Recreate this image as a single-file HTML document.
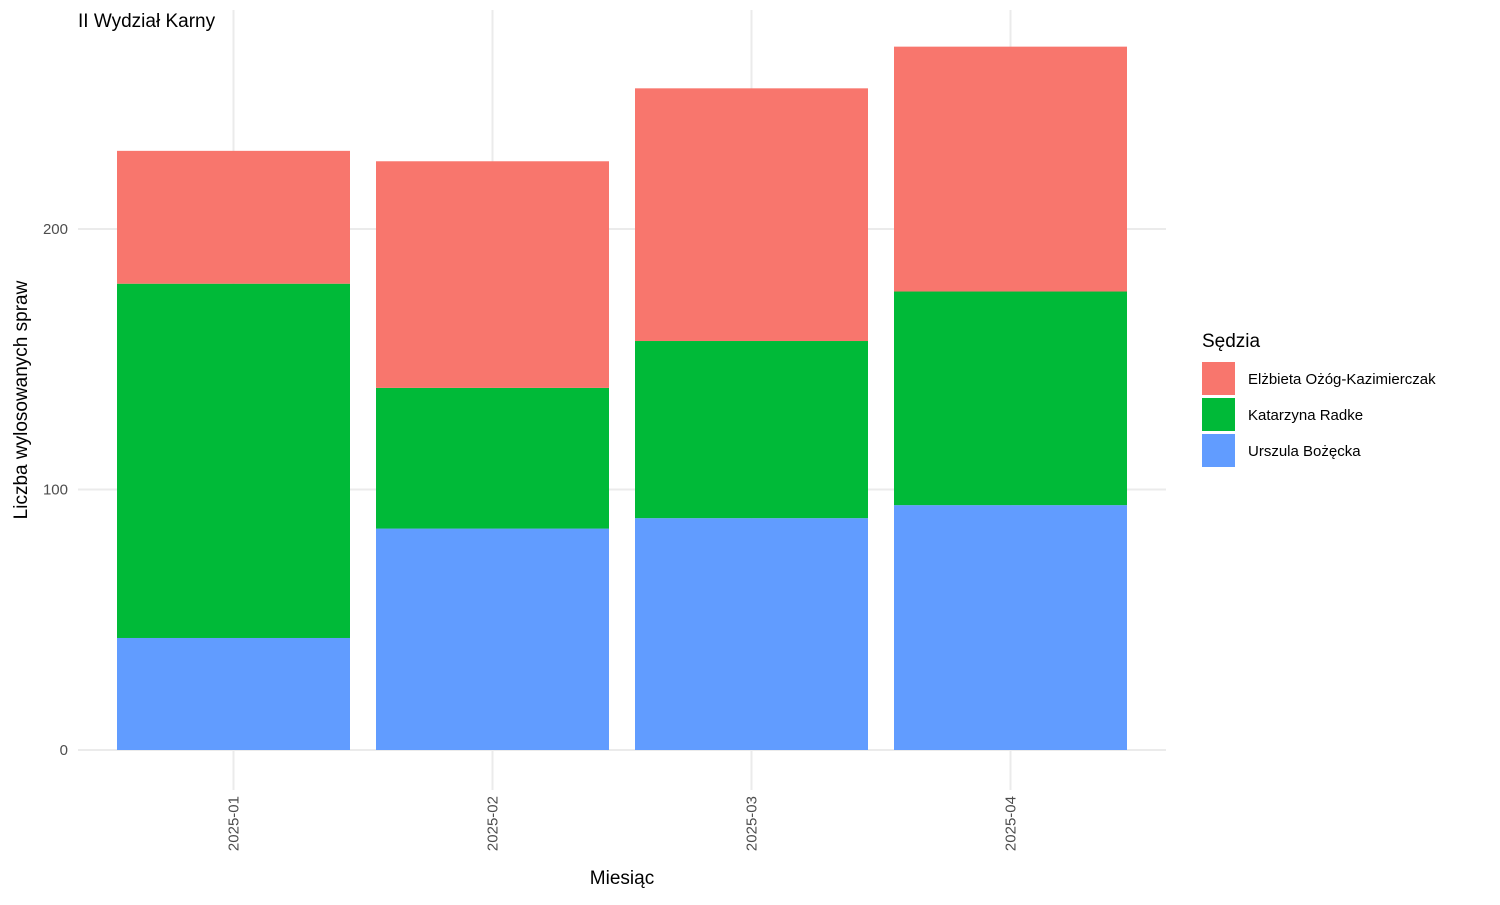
<!DOCTYPE html>
<html><head><meta charset="utf-8"><style>
body{margin:0;background:#fff;font-family:"Liberation Sans",sans-serif}
</style></head><body>
<svg id="chart" width="1500" height="900" xmlns="http://www.w3.org/2000/svg" font-family="Liberation Sans, sans-serif">
<text x="78" y="27" font-size="19" fill="#000">II Wydział Karny</text>
<g id="grid"></g>
<g id="bars"></g>
<g id="axes"></g>
<text x="622" y="884" font-size="19" text-anchor="middle">Miesiąc</text>
<text transform="translate(27,400) rotate(-90)" font-size="19" text-anchor="middle">Liczba wylosowanych spraw</text>
<g>
<text x="1202" y="347" font-size="19">Sędzia</text>
<rect x="1202" y="362" width="33" height="33" fill="#F8766D"/>
<text x="1248" y="384" font-size="15">Elżbieta Ożóg-Kazimierczak</text>
<rect x="1202" y="398" width="33" height="33" fill="#00BA38"/>
<text x="1248" y="420" font-size="15">Katarzyna Radke</text>
<rect x="1202" y="434" width="33" height="33" fill="#619CFF"/>
<text x="1248" y="456" font-size="15">Urszula Bożęcka</text>
</g>
</svg>
<script>
const categories = ["2025-01","2025-02","2025-03","2025-04"];
const urszula = [43, 85, 89, 94];
const katarzyna = [136, 54, 68, 82];
const elzbieta = [51, 87, 97, 94];
const yTicks = [0, 100, 200];

const NS="http://www.w3.org/2000/svg";
const x0=78, x1=1166, yTop=10, yBot=790;
const step=259, bandStart=104, barW=233;
const y = v => 750 - v*2.605;
const xc = i => bandStart + step*(i+0.5);
function mk(tag, attrs, parent){const e=document.createElementNS(NS,tag);for(const k in attrs)e.setAttribute(k,attrs[k]);parent.appendChild(e);return e;}
const grid=document.getElementById('grid'), bars=document.getElementById('bars'), axes=document.getElementById('axes');
yTicks.forEach(t=>{
  const l=mk('line',{x1:x0,x2:x1,y1:y(t),y2:y(t),stroke:'#ebebeb','stroke-width':2},grid);
  
  
  const tx=mk('text',{x:68,y:y(t)+5,'font-size':15,fill:'#4d4d4d','text-anchor':'end'},axes);
  tx.textContent=t;
  
  
});
categories.forEach((c,i)=>{
  const l=mk('line',{x1:xc(i),x2:xc(i),y1:yTop,y2:yBot,stroke:'#ebebeb','stroke-width':2},grid);
  
  
  const series=[[urszula,'#619CFF','urszula'],[katarzyna,'#00BA38','katarzyna'],[elzbieta,'#F8766D','elzbieta']];
  let base=0;
  series.forEach(([arr,col,nm])=>{
    const top=base+arr[i];
    const r=mk('rect',{x:xc(i)-barW/2,y:y(top),width:barW,height:y(base)-y(top),fill:col},bars);
    
    
    base=top;
  });
  const tx=mk('text',{transform:`translate(${xc(i)+5},796) rotate(-90)`,'font-size':15,fill:'#4d4d4d','text-anchor':'end'},axes);
  tx.textContent=c;
  
  
});
</script>
</body></html>
